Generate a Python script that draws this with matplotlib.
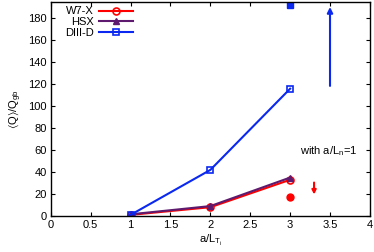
import matplotlib
matplotlib.use("Agg")
import matplotlib.pyplot as plt

x = [1, 2, 3]
w7x = [1, 8, 33]
hsx = [1.5, 9, 35]
diiid = [1, 42, 116]

# runs with a/L_n = 1
x_ln = [3]
w7x_ln = [17]
diiid_ln = [192]

red = '#ff0000'
purple = '#5e1a6e'
blue = '#0a28f0'

plt.rcParams['font.family'] = ['Liberation Sans', 'DejaVu Sans']
plt.rcParams['font.size'] = 8

fig = plt.figure(figsize=(3.74, 2.52), dpi=100)
ax = fig.add_axes([0.136, 0.143, 0.853, 0.849])

ax.plot(x, w7x, '-o', color=red, mfc='none', ms=5, mew=1.2, lw=1.5, label='W7-X')
ax.plot(x, hsx, '-^', color=purple, ms=5, lw=1.5, label='HSX')
ax.plot(x, diiid, '-s', color=blue, mfc='none', ms=5, mew=1.2, lw=1.5, label='DIII-D')

ax.plot(x_ln, w7x_ln, 'o', color=red, ms=5)
ax.plot(x_ln, diiid_ln, 's', color=blue, ms=5)

ax.annotate('', xy=(3.5, 193), xytext=(3.5, 116),
            arrowprops=dict(arrowstyle='-|>', color=blue, lw=1.5, mutation_scale=8))
ax.annotate('', xy=(3.3, 17), xytext=(3.3, 33),
            arrowprops=dict(arrowstyle='-|>', color=red, lw=1.5, mutation_scale=6))
ax.text(3.84, 59, 'with a/L$_\\mathregular{n}$=1', ha='right', va='center')

ax.set_xlim(0, 4)
ax.set_ylim(0, 195)
ax.set_xticks([0, 0.5, 1, 1.5, 2, 2.5, 3, 3.5, 4])
ax.set_xticklabels(['0', '0.5', '1', '1.5', '2', '2.5', '3', '3.5', '4'])
ax.set_yticks(range(0, 181, 20))
ax.tick_params(direction='in', top=True, right=True, length=3, width=0.8, pad=3)
for s in ax.spines.values():
    s.set_linewidth(1)

ax.set_xlabel('a/L$_\\mathregular{T_i}$', labelpad=2)
ax.set_ylabel('$\\mathregular{\\langle Q\\rangle/Q_{gb}}$', labelpad=3)

ax.legend(loc='upper right', bbox_to_anchor=(0.27, 1.0), frameon=False, markerfirst=False,
          handlelength=3.0, handletextpad=0.5, labelspacing=0.05, borderpad=0.1,
          borderaxespad=0.3)

fig.savefig('out.png', dpi=100)
